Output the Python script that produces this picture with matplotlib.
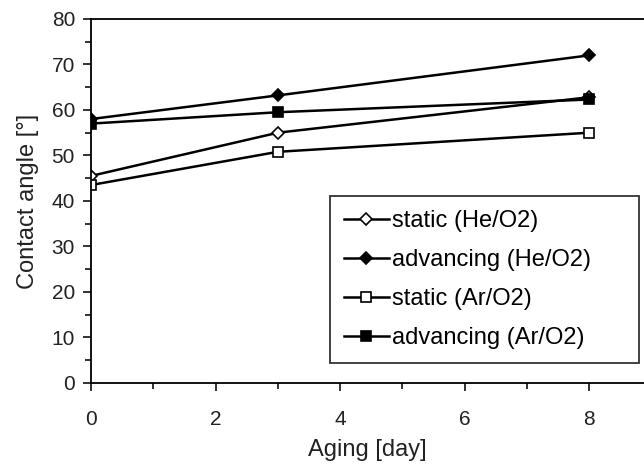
import matplotlib
matplotlib.use("Agg")
import matplotlib.pyplot as plt
from matplotlib.ticker import MultipleLocator

plt.rcParams["font.family"] = ["Liberation Sans", "DejaVu Sans"]
INK = "#222222"

days = [0, 3, 8]
static_he = [45.5, 55.0, 62.8]
adv_he = [58.0, 63.2, 72.0]
static_ar = [43.5, 50.8, 55.0]
adv_ar = [57.0, 59.5, 62.3]

fig = plt.figure(figsize=(6.44, 4.67), dpi=100)
ax = fig.add_axes([0.1413, 0.18, 0.8587, 0.7794])

kw = dict(color="black", lw=1.8, markeredgecolor="black", markeredgewidth=1.2)
ax.plot(days, static_he, marker="D", ms=6, mfc="white", label="static (He/O2)", **kw)
ax.plot(days, adv_he, marker="D", ms=6, mfc="black", label="advancing (He/O2)", **kw)
ax.plot(days, static_ar, marker="s", ms=7, mfc="white", label="static (Ar/O2)", **kw)
ax.plot(days, adv_ar, marker="s", ms=7, mfc="black", label="advancing (Ar/O2)", **kw)

ax.set_xlim(0, 8.88)
ax.set_ylim(0, 80)
ax.set_xticks([0, 2, 4, 6, 8])
ax.set_xticks([1, 3, 5, 7], minor=True)
ax.yaxis.set_major_locator(MultipleLocator(10))
ax.yaxis.set_minor_locator(MultipleLocator(5))
ax.spines["right"].set_visible(False)
for s in ("left", "bottom", "top"):
    ax.spines[s].set_linewidth(1.3)
ax.tick_params(which="both", direction="out", width=1.3, labelsize=15, colors=INK)
ax.tick_params(which="major", length=5.5)
ax.tick_params(which="minor", length=4)
ax.tick_params(axis="x", pad=14)
ax.tick_params(axis="y", pad=6)

ax.set_xlabel("Aging [day]", fontsize=17, color=INK, labelpad=7)
ax.set_ylabel("Contact angle [°]", fontsize=17, color=INK, labelpad=9)

leg = ax.legend(loc="center", bbox_to_anchor=(0.432, 0.044, 0.559, 0.481), mode="expand",
                fontsize=17, frameon=True, fancybox=False, edgecolor="black",
                handlelength=1.9, handletextpad=0.15, labelspacing=0.72,
                borderpad=0.6, borderaxespad=0)
leg.get_frame().set_linewidth(1.3)

fig.savefig("out.png", dpi=100)
